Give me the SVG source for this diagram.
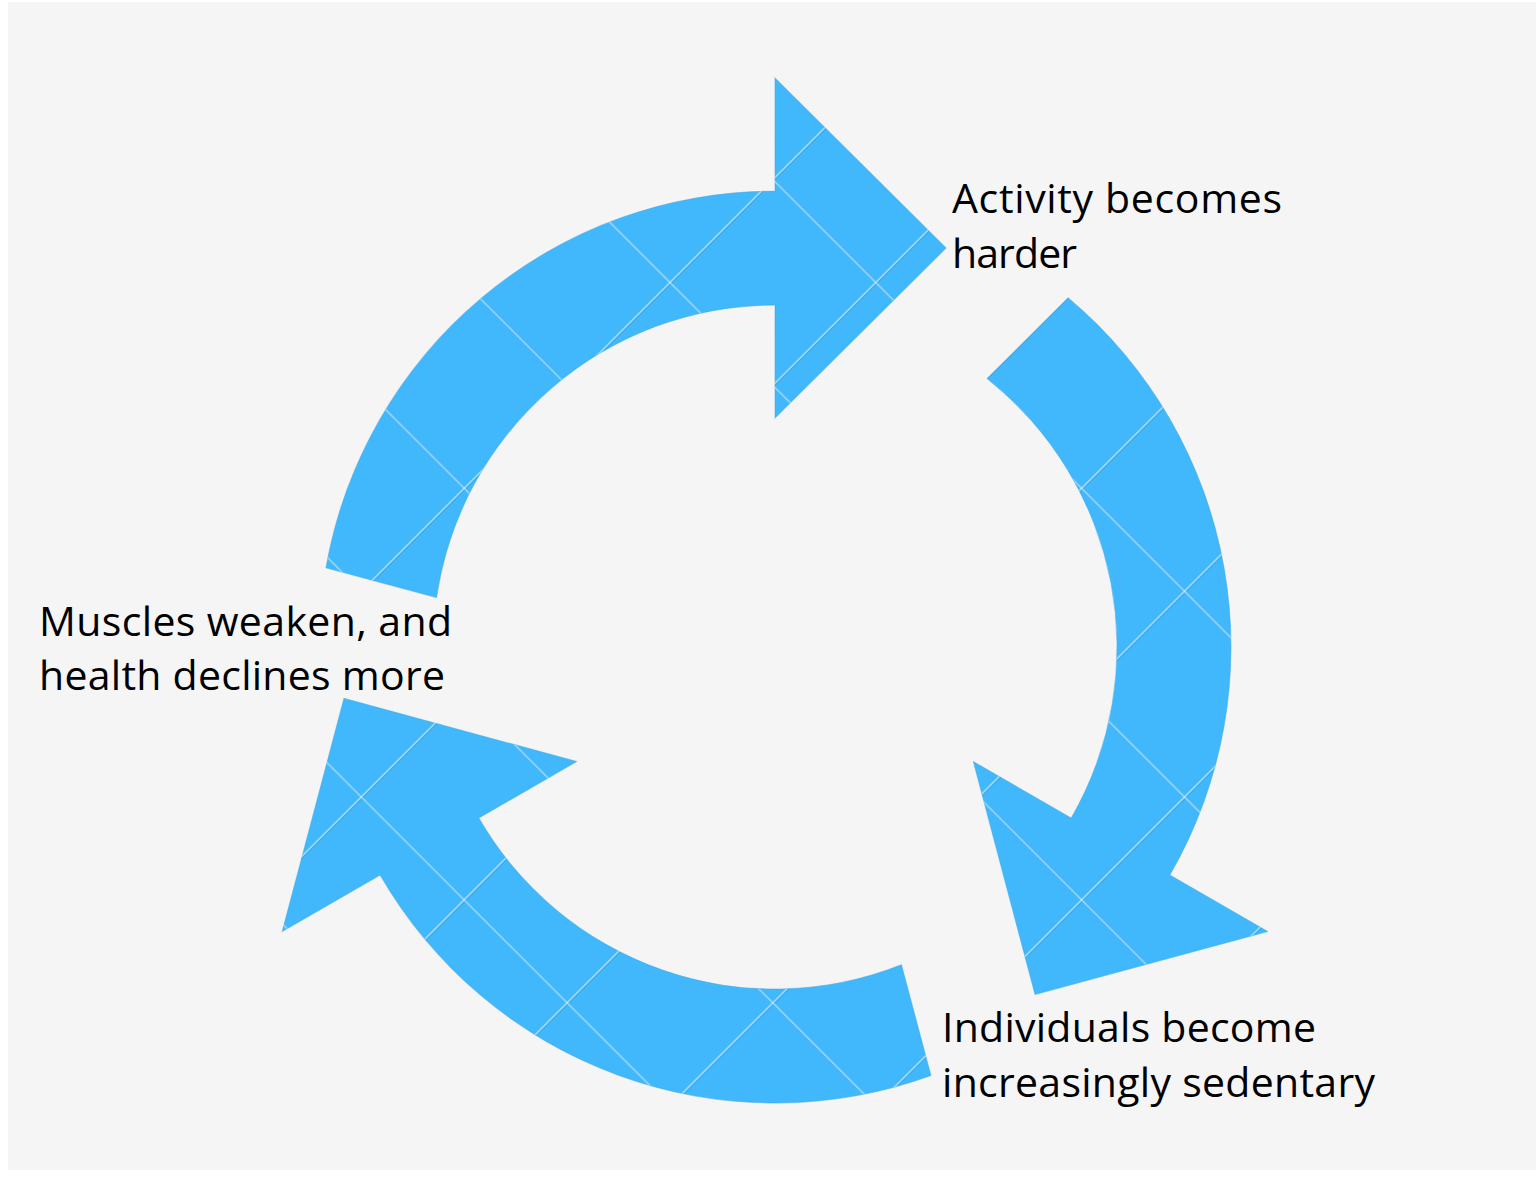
<svg xmlns="http://www.w3.org/2000/svg" width="1536" height="1177" viewBox="0 0 1536 1177">
  <style>
    .lbl { font-family: "Open Sans", "Noto Sans", "Liberation Sans", sans-serif; font-size: 41px; fill: #000000; }
    .arrow { fill: #41B8FC; stroke: #3AA6E6; stroke-width: 1; stroke-opacity: 0.5; }
    .wm-hi { stroke: #FFFFFF; stroke-opacity: 0.45; stroke-width: 1.8; fill: none; }
    .wm-lo { stroke: #1F6E9E; stroke-opacity: 0.22; stroke-width: 1.2; fill: none; }
  </style>
  <defs>
    <!-- one curved arrow, drawn around the ring centre (0,0); head points clockwise -->
    <path id="cycleArrow" d="M293.1,-349.3 A456,456 0 0 1 394.9,228 L492.8,284.5 L260,347.6 L198.3,114.5 L296.2,171 A342,342 0 0 0 212,-268.4 Z"/>
    <clipPath id="arrowClip">
      <use href="#cycleArrow" transform="translate(775,647) rotate(-120)"/>
      <use href="#cycleArrow" transform="translate(775,647)"/>
      <use href="#cycleArrow" transform="translate(775,647) rotate(120)"/>
    </clipPath>
  </defs>

  <!-- page -->
  <rect x="0" y="0" width="1536" height="1177" fill="#FFFFFF"/>
  <rect x="8" y="2" width="1528" height="1168" fill="#F5F5F5"/>

  <!-- cycle connectors -->
  <g id="connectors">
    <use id="arrow-top" class="arrow" href="#cycleArrow" transform="translate(775,647) rotate(-120)"/>
    <use id="arrow-right" class="arrow" href="#cycleArrow" transform="translate(775,647)"/>
    <use id="arrow-bottom" class="arrow" href="#cycleArrow" transform="translate(775,647) rotate(120)"/>
    <!-- diagonal embossed grid over the arrows -->
    <g clip-path="url(#arrowClip)">
      <g class="wm-lo" transform="translate(1,1)">
        <path d="M129.3,0 L-1047.7,1177 M335.1,0 L-841.9,1177 M540.9,0 L-636.1,1177 M746.7,0 L-430.3,1177 M952.5,0 L-224.5,1177 M1158.3,0 L-18.7,1177 M1364.1,0 L187.1,1177 M1569.9,0 L392.9,1177 M1775.7,0 L598.7,1177 M1981.5,0 L804.5,1177 M2187.3,0 L1010.3,1177 M2393.1,0 L1216.1,1177 M2598.9,0 L1421.9,1177"/>
        <path d="M-1053.1,0 L123.9,1177 M-847.3,0 L329.7,1177 M-641.5,0 L535.5,1177 M-435.7,0 L741.3,1177 M-229.9,0 L947.1,1177 M-24.1,0 L1152.9,1177 M181.7,0 L1358.7,1177 M387.5,0 L1564.5,1177 M593.3,0 L1770.3,1177 M799.1,0 L1976.1,1177 M1004.9,0 L2181.9,1177 M1210.7,0 L2387.7,1177 M1416.5,0 L2593.5,1177"/>
      </g>
      <g class="wm-hi">
        <path d="M129.3,0 L-1047.7,1177 M335.1,0 L-841.9,1177 M540.9,0 L-636.1,1177 M746.7,0 L-430.3,1177 M952.5,0 L-224.5,1177 M1158.3,0 L-18.7,1177 M1364.1,0 L187.1,1177 M1569.9,0 L392.9,1177 M1775.7,0 L598.7,1177 M1981.5,0 L804.5,1177 M2187.3,0 L1010.3,1177 M2393.1,0 L1216.1,1177 M2598.9,0 L1421.9,1177"/>
        <path d="M-1053.1,0 L123.9,1177 M-847.3,0 L329.7,1177 M-641.5,0 L535.5,1177 M-435.7,0 L741.3,1177 M-229.9,0 L947.1,1177 M-24.1,0 L1152.9,1177 M181.7,0 L1358.7,1177 M387.5,0 L1564.5,1177 M593.3,0 L1770.3,1177 M799.1,0 L1976.1,1177 M1004.9,0 L2181.9,1177 M1210.7,0 L2387.7,1177 M1416.5,0 L2593.5,1177"/>
      </g>
    </g>
  </g>

  <!-- stage labels -->
  <g id="node-activity">
    <text class="lbl" x="952" y="213" textLength="330">Activity becomes</text>
    <text class="lbl" x="952" y="268" textLength="125">harder</text>
  </g>
  <g id="node-sedentary">
    <text class="lbl" x="942" y="1042" textLength="374">Individuals become</text>
    <text class="lbl" x="942" y="1097" textLength="433">increasingly sedentary</text>
  </g>
  <g id="node-muscles">
    <text class="lbl" x="39" y="636" textLength="413">Muscles weaken, and</text>
    <text class="lbl" x="39" y="690" textLength="406">health declines more</text>
  </g>
</svg>
